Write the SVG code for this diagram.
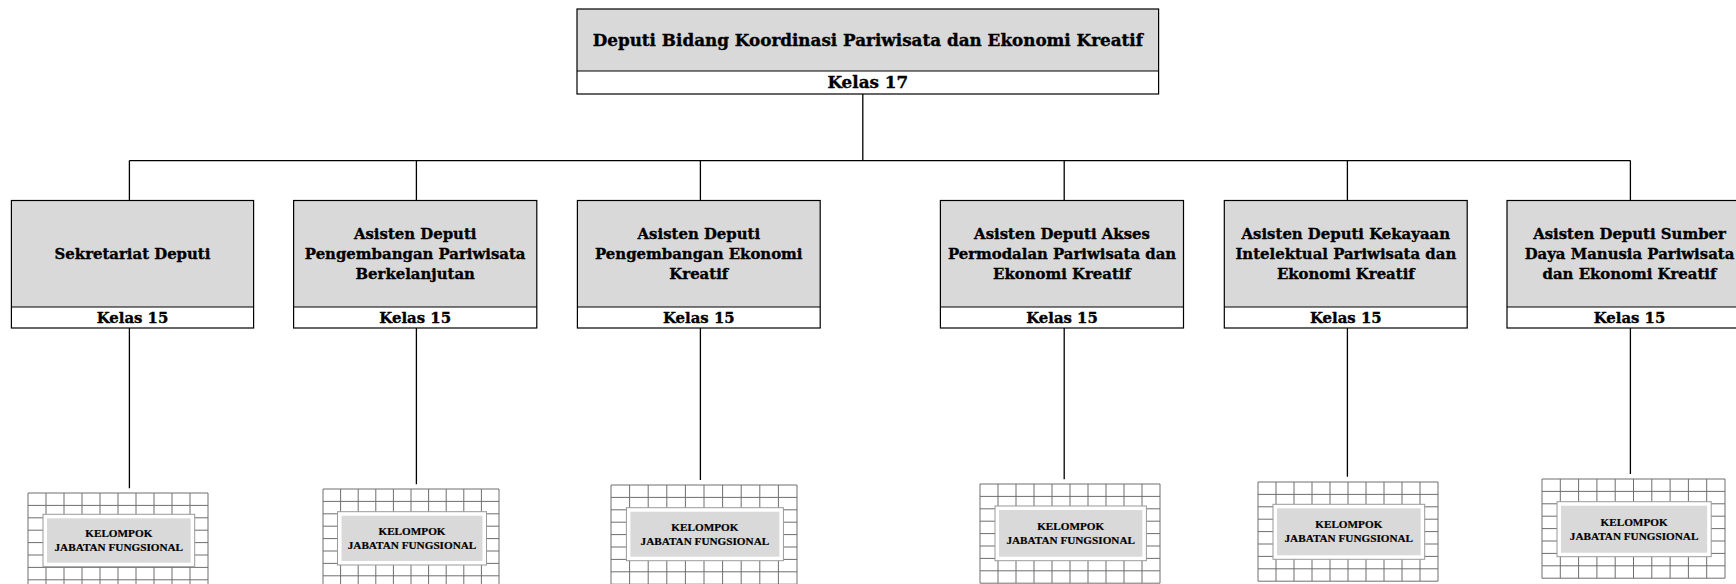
<svg xmlns="http://www.w3.org/2000/svg" width="1736" height="584" viewBox="0 0 1736 584">
<style>
.bg{fill:#ffffff}
.box{fill:none;stroke:#000;stroke-width:1.2}
.gray{fill:#d9d9d9}
.div{stroke:#000;stroke-width:1.2}
.t{font-family:"DejaVu Serif",serif;font-weight:bold;fill:#000;stroke:#000;stroke-width:0.35;text-anchor:middle}
.tt{font-size:16.8px}
.tr{font-size:14.9px}
.grid{fill:none;stroke:#6e6e6e;stroke-width:1}
.ib{fill:#fff;stroke:#9a9a9a;stroke-width:1}
.ig{fill:#d9d9d9}
.k{font-family:"Liberation Serif",serif;font-weight:bold;font-size:11.2px;fill:#000;stroke:#000;stroke-width:0.2;text-anchor:middle}
.con{fill:none;stroke:#000;stroke-width:1.3}
</style>
<rect width="1736" height="584" fill="#fff"/>

<g id="connectors">
<path class="con" d="M862.8 94V160.6M129.4 160.6H1630.4M129.4 160.6V200.5M416.4 160.6V200.5M700.4 160.6V200.5M1064.2 160.6V200.5M1347.4 160.6V200.5M1630.4 160.6V200.5"/>
<path class="con" d="M129.4 328V488.3M416.4 328V484.3M700.4 328V480M1064.2 328V479.3M1347.4 328V476.7M1630.4 328V474"/>
</g>

<g id="deputi">
<rect class="gray" x="577" y="9" width="581.6" height="62"/>
<rect class="box" x="577" y="9" width="581.6" height="85"/>
<line class="div" x1="577" y1="71" x2="1158.6" y2="71"/>
<text class="t tt" x="867.8" y="46">Deputi Bidang Koordinasi Pariwisata dan Ekonomi Kreatif</text>
<text class="t tt" x="867.8" y="88">Kelas 17</text>
</g>

<g id="sekretariat">
<rect class="gray" x="11.4" y="200.5" width="242.2" height="106.5"/>
<rect class="box" x="11.4" y="200.5" width="242.2" height="127.5"/>
<line class="div" x1="11.4" y1="307" x2="253.6" y2="307"/>
<text class="t tr" x="132.5" y="258.6">Sekretariat Deputi</text>
<text class="t tr" x="132.5" y="322.6">Kelas 15</text>
</g>

<g id="asdep-berkelanjutan">
<rect class="gray" x="293.6" y="200.5" width="243.2" height="106.5"/>
<rect class="box" x="293.6" y="200.5" width="243.2" height="127.5"/>
<line class="div" x1="293.6" y1="307" x2="536.8" y2="307"/>
<text class="t tr" x="415.2" y="238.6">Asisten Deputi</text>
<text class="t tr" x="415.2" y="258.6">Pengembangan Pariwisata</text>
<text class="t tr" x="415.2" y="278.6">Berkelanjutan</text>
<text class="t tr" x="415.2" y="322.6">Kelas 15</text>
</g>

<g id="asdep-ekraf">
<rect class="gray" x="577.4" y="200.5" width="242.8" height="106.5"/>
<rect class="box" x="577.4" y="200.5" width="242.8" height="127.5"/>
<line class="div" x1="577.4" y1="307" x2="820.2" y2="307"/>
<text class="t tr" x="698.8" y="238.6">Asisten Deputi</text>
<text class="t tr" x="698.8" y="258.6">Pengembangan Ekonomi</text>
<text class="t tr" x="698.8" y="278.6">Kreatif</text>
<text class="t tr" x="698.8" y="322.6">Kelas 15</text>
</g>

<g id="asdep-akses">
<rect class="gray" x="940.4" y="200.5" width="243.1" height="106.5"/>
<rect class="box" x="940.4" y="200.5" width="243.1" height="127.5"/>
<line class="div" x1="940.4" y1="307" x2="1183.5" y2="307"/>
<text class="t tr" x="1062" y="238.6">Asisten Deputi Akses</text>
<text class="t tr" x="1062" y="258.6">Permodalan Pariwisata dan</text>
<text class="t tr" x="1062" y="278.6">Ekonomi Kreatif</text>
<text class="t tr" x="1062" y="322.6">Kelas 15</text>
</g>

<g id="asdep-kekayaan">
<rect class="gray" x="1224.3" y="200.5" width="242.9" height="106.5"/>
<rect class="box" x="1224.3" y="200.5" width="242.9" height="127.5"/>
<line class="div" x1="1224.3" y1="307" x2="1467.2" y2="307"/>
<text class="t tr" x="1345.8" y="238.6">Asisten Deputi Kekayaan</text>
<text class="t tr" x="1345.8" y="258.6">Intelektual Pariwisata dan</text>
<text class="t tr" x="1345.8" y="278.6">Ekonomi Kreatif</text>
<text class="t tr" x="1345.8" y="322.6">Kelas 15</text>
</g>

<g id="asdep-sdm">
<rect class="gray" x="1507" y="200.5" width="245" height="106.5"/>
<rect class="box" x="1507" y="200.5" width="245" height="127.5"/>
<line class="div" x1="1507" y1="307" x2="1752" y2="307"/>
<text class="t tr" x="1629.5" y="238.6">Asisten Deputi Sumber</text>
<text class="t tr" x="1629.5" y="258.6">Daya Manusia Pariwisata</text>
<text class="t tr" x="1629.5" y="278.6">dan Ekonomi Kreatif</text>
<text class="t tr" x="1629.5" y="322.6">Kelas 15</text>
</g>

<g id="jf-1">
<path class="grid" d="M28 493V592.2M46 493V592.2M64 493V592.2M82 493V592.2M100 493V592.2M118 493V592.2M136 493V592.2M154 493V592.2M172 493V592.2M190 493V592.2M208 493V592.2M28 493H208M28 505.4H208M28 517.8H208M28 530.2H208M28 542.6H208M28 555H208M28 567.4H208M28 579.8H208M28 592.2H208"/>
<rect class="ib" x="43" y="514.3" width="151.7" height="52.4"/>
<rect class="ig" x="47" y="518.3" width="143.7" height="44.4"/>
<text class="k" x="118.8" y="537">KELOMPOK</text>
<text class="k" x="118.8" y="551">JABATAN FUNGSIONAL</text>
</g>

<g id="jf-2">
<path class="grid" d="M323 489V588.2M340.6 489V588.2M358.2 489V588.2M375.8 489V588.2M393.4 489V588.2M411 489V588.2M428.6 489V588.2M446.2 489V588.2M463.8 489V588.2M481.4 489V588.2M499 489V588.2M323 489H499M323 501.4H499M323 513.8H499M323 526.2H499M323 538.6H499M323 551H499M323 563.4H499M323 575.8H499M323 588.2H499"/>
<rect class="ib" x="337.5" y="511.7" width="149" height="53.3"/>
<rect class="ig" x="341.5" y="515.7" width="141" height="45.3"/>
<text class="k" x="412" y="534.8">KELOMPOK</text>
<text class="k" x="412" y="548.8">JABATAN FUNGSIONAL</text>
</g>

<g id="jf-3">
<path class="grid" d="M611 485V584.2M629.6 485V584.2M648.2 485V584.2M666.8 485V584.2M685.4 485V584.2M704 485V584.2M722.6 485V584.2M741.2 485V584.2M759.8 485V584.2M778.4 485V584.2M797 485V584.2M611 485H797M611 497.4H797M611 509.8H797M611 522.2H797M611 534.6H797M611 547H797M611 559.4H797M611 571.8H797M611 584.2H797"/>
<rect class="ib" x="626.4" y="507.7" width="157" height="53"/>
<rect class="ig" x="630.4" y="511.7" width="149" height="45"/>
<text class="k" x="704.9" y="530.7">KELOMPOK</text>
<text class="k" x="704.9" y="544.7">JABATAN FUNGSIONAL</text>
</g>

<g id="jf-4">
<path class="grid" d="M980 484V583.2M998 484V583.2M1016 484V583.2M1034 484V583.2M1052 484V583.2M1070 484V583.2M1088 484V583.2M1106 484V583.2M1124 484V583.2M1142 484V583.2M1160 484V583.2M980 484H1160M980 496.4H1160M980 508.8H1160M980 521.2H1160M980 533.6H1160M980 546H1160M980 558.4H1160M980 570.8H1160M980 583.2H1160"/>
<rect class="ib" x="995" y="506" width="151.4" height="54.7"/>
<rect class="ig" x="999" y="510" width="143.4" height="46.7"/>
<text class="k" x="1070.7" y="529.8">KELOMPOK</text>
<text class="k" x="1070.7" y="543.8">JABATAN FUNGSIONAL</text>
</g>

<g id="jf-5">
<path class="grid" d="M1258 482V581.2M1276 482V581.2M1294 482V581.2M1312 482V581.2M1330 482V581.2M1348 482V581.2M1366 482V581.2M1384 482V581.2M1402 482V581.2M1420 482V581.2M1438 482V581.2M1258 482H1438M1258 494.4H1438M1258 506.8H1438M1258 519.2H1438M1258 531.6H1438M1258 544H1438M1258 556.4H1438M1258 568.8H1438M1258 581.2H1438"/>
<rect class="ib" x="1273" y="504.3" width="151.7" height="55"/>
<rect class="ig" x="1277" y="508.3" width="143.7" height="47"/>
<text class="k" x="1348.8" y="528.3">KELOMPOK</text>
<text class="k" x="1348.8" y="542.3">JABATAN FUNGSIONAL</text>
</g>

<g id="jf-6">
<path class="grid" d="M1542 479V578.2M1560.3 479V578.2M1578.6 479V578.2M1596.9 479V578.2M1615.2 479V578.2M1633.5 479V578.2M1651.8 479V578.2M1670.1 479V578.2M1688.4 479V578.2M1706.7 479V578.2M1725 479V578.2M1542 479H1725M1542 491.4H1725M1542 503.8H1725M1542 516.2H1725M1542 528.6H1725M1542 541H1725M1542 553.4H1725M1542 565.8H1725M1542 578.2H1725"/>
<rect class="ib" x="1557" y="501.7" width="154.2" height="55"/>
<rect class="ig" x="1561" y="505.7" width="146.2" height="47"/>
<text class="k" x="1634.1" y="525.7">KELOMPOK</text>
<text class="k" x="1634.1" y="539.7">JABATAN FUNGSIONAL</text>
</g>
</svg>
